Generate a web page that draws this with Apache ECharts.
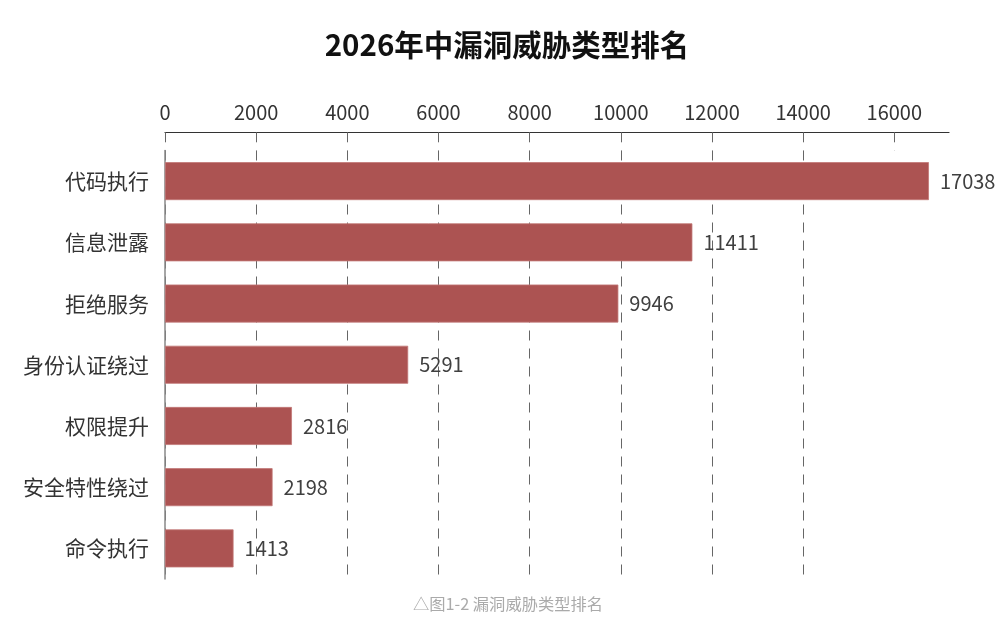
<!DOCTYPE html>
<html>
<head>
<meta charset="utf-8">
<title>2026年中漏洞威胁类型排名</title>
<script src="https://cdn.jsdelivr.net/npm/echarts@6/dist/echarts.min.js"></script>
<style>
  html, body { margin: 0; padding: 0; background: #fff; }
  #main { width: 1000px; height: 637px; }
</style>
</head>
<body>
<div id="main"></div>
<script>
// 漏洞类型
const categories = ['代码执行', '信息泄露', '拒绝服务', '身份认证绕过', '权限提升', '安全特性绕过', '命令执行'];
// 条形长度（按图上量出来的）
const barValues = [16760, 11570, 9946, 5335, 2785, 2360, 1504];
// 条形右侧标注的数字
const labelTexts = ['17038', '11411', '9946', '5291', '2816', '2198', '1413'];
// x轴刻度
const tickValues = [0, 2000, 4000, 6000, 8000, 10000, 12000, 14000, 16000];

const FONT = '"Noto Sans CJK SC", "Noto Sans", sans-serif';
const chart = echarts.init(document.getElementById('main'));

const option = {
  backgroundColor: '#fff',
  animation: false,
  textStyle: { fontFamily: FONT },
  grid: {
    left: 165,
    right: 51,
    top: 150.5,
    bottom: 58
  },
  // 标题和图注
  graphic: [
    {
      type: 'text',
      x: 507,
      y: 45,
      style: {
        text: '2026年中漏洞威胁类型排名',
        font: 'bold 29.5px ' + FONT,
        fill: '#111',
        textAlign: 'center',
        textVerticalAlign: 'middle'
      }
    },
    {
      type: 'text',
      x: 508,
      y: 604,
      style: {
        text: '△图1-2 漏洞威胁类型排名',
        font: '16.3px ' + FONT,
        fill: '#aaa',
        textAlign: 'center',
        textVerticalAlign: 'middle'
      }
    }
  ],
  xAxis: {
    type: 'value',
    position: 'top',
    offset: 18.2,
    min: 0,
    max: 17200,
    interval: 2000,
    axisLine: {
      show: true,
      lineStyle: { color: '#333', width: 1.2 }
    },
    // 轴线到网格顶部之间的虚线段
    axisTick: {
      show: true,
      inside: true,
      length: 18.2,
      customValues: tickValues,
      lineStyle: { color: '#666', type: [10, 8], width: 1 }
    },
    axisLabel: {
      customValues: tickValues,
      fontSize: 20,
      color: '#333',
      margin: 10,
      formatter: function (v) {
        return String(v);
      }
    },
    splitLine: {
      show: true,
      showMaxLine: false,
      lineStyle: { color: '#666', type: [10, 8], width: 1 }
    }
  },
  yAxis: {
    type: 'category',
    inverse: true,
    data: categories,
    axisLine: {
      show: true,
      lineStyle: { color: '#888', width: 1.5 }
    },
    axisTick: { show: false },
    axisLabel: {
      fontSize: 21,
      color: '#333',
      margin: 16
    }
  },
  series: [
    {
      type: 'bar',
      data: barValues,
      barWidth: 38,
      itemStyle: {
        color: '#ac5352',
        borderColor: '#c27776',
        borderWidth: 0.8
      },
      label: {
        show: true,
        position: 'right',
        distance: 11,
        fontSize: 20,
        color: '#404040',
        formatter: function (p) {
          return labelTexts[p.dataIndex];
        }
      }
    }
  ]
};

chart.setOption(option);
</script>
</body>
</html>
